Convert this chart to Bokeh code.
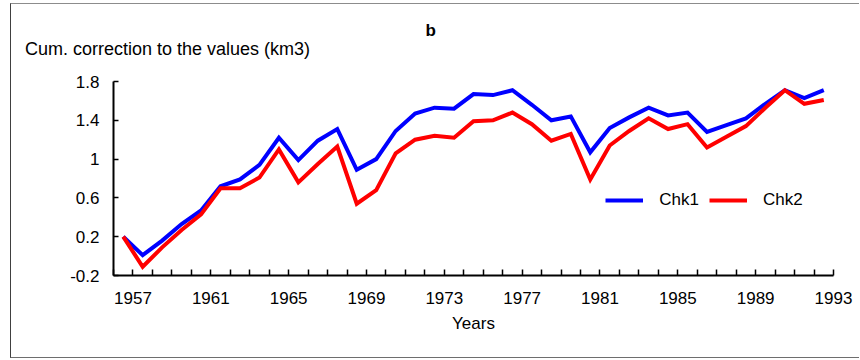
from bokeh.plotting import figure
from bokeh.models import Range1d, FixedTicker, Title, Legend, LegendItem, CustomJSTickFormatter
from bokeh.embed import file_html
from bokeh.resources import INLINE

# ---- data ----
years = list(range(1956, 1993))  # annual values, plotted at mid-year
chk1 = [0.20, 0.01, 0.16, 0.33, 0.47, 0.72, 0.79, 0.94, 1.22, 0.99,
        1.19, 1.31, 0.89, 1.00, 1.29, 1.47, 1.53, 1.52, 1.67, 1.66,
        1.71, 1.56, 1.40, 1.44, 1.07, 1.32, 1.43, 1.53, 1.45, 1.48,
        1.28, 1.35, 1.42, 1.57, 1.71, 1.63, 1.71]
chk2 = [0.20, -0.11, 0.09, 0.27, 0.43, 0.70, 0.70, 0.81, 1.10, 0.76,
        0.95, 1.13, 0.54, 0.68, 1.06, 1.20, 1.24, 1.22, 1.39, 1.40,
        1.48, 1.36, 1.19, 1.26, 0.79, 1.14, 1.29, 1.42, 1.31, 1.36,
        1.12, 1.23, 1.34, 1.53, 1.71, 1.57, 1.61]
x_tick_labels = [1957, 1961, 1965, 1969, 1973, 1977, 1981, 1985, 1989, 1993]
y_ticks = [-0.2, 0.2, 0.6, 1.0, 1.4, 1.8]
series_names = ["Chk1", "Chk2"]
colors = ["#0000FF", "#FF0000"]
title_text = "b"
y_title = "Cum. correction to the values (km3)"
x_title = "Years"

FONT = "Liberation Sans"
FS = "17px"

xs = [y + 0.5 for y in years]

p = figure(width=849, height=355, output_backend="svg", toolbar_location=None,
           x_range=Range1d(years[0], years[-1] + 1), y_range=Range1d(y_ticks[0], y_ticks[-1]),
           min_border_left=102, min_border_right=27, min_border_top=77, min_border_bottom=84)
p.margin = (3, 0, 0, 10)
p.styles = {"border-top": "1px solid #8c8c8c", "border-left": "1px solid #404040",
            "border-bottom": "1px solid #6e6e6e"}
p.outline_line_color = None
p.xgrid.visible = False
p.ygrid.visible = False
p.background_fill_color = "white"
p.border_fill_color = "white"

r1 = p.line(xs, chk1, line_color=colors[0], line_width=4, line_join="miter")
r2 = p.line(xs, chk2, line_color=colors[1], line_width=4, line_join="miter")

# x axis
xa = p.xaxis[0]
xa.ticker = FixedTicker(ticks=x_tick_labels, minor_ticks=list(range(years[0], years[-1] + 2)))
xa.major_tick_in = 0
xa.major_tick_out = 0
xa.minor_tick_in = 6
xa.minor_tick_out = 0
xa.minor_tick_line_color = "black"
xa.minor_tick_line_width = 1.5
xa.axis_line_color = "black"
xa.axis_line_width = 2
xa.major_label_standoff = 16
xa.major_label_text_font = FONT
xa.major_label_text_font_size = FS
xa.major_label_text_color = "black"
xa.axis_label = x_title
xa.axis_label_text_font = FONT
xa.axis_label_text_font_size = FS
xa.axis_label_text_font_style = "normal"
xa.axis_label_text_color = "black"
xa.axis_label_standoff = 7

# y axis
ya = p.yaxis[0]
ya.ticker = FixedTicker(ticks=y_ticks, minor_ticks=[])
ya.formatter = CustomJSTickFormatter(code="return tick.toFixed(1).replace(/\\.0$/, '')")
ya.major_tick_in = 5
ya.major_tick_out = 0
ya.major_tick_line_width = 1.5
ya.minor_tick_in = 0
ya.minor_tick_out = 0
ya.axis_line_color = "black"
ya.axis_line_width = 2
ya.major_label_standoff = 14
ya.major_label_text_font = FONT
ya.major_label_text_font_size = FS
ya.major_label_text_color = "black"

# titles
p.add_layout(Title(text=y_title, align="left", offset=-88.5, standoff=46,
                   text_font=FONT, text_font_size="18px", text_font_style="normal",
                   text_color="black"), "above")
p.title.text = title_text
p.title.align = "left"
p.title.offset = 312
p.title.standoff = -53
p.title.text_font = FONT
p.title.text_font_size = FS
p.title.text_font_style = "bold"
p.title.text_color = "black"

legend = Legend(items=[LegendItem(label=series_names[0], renderers=[r1]),
                       LegendItem(label=series_names[1], renderers=[r2])],
                location=(492.3, 65.4), orientation="horizontal",
                padding=0, margin=0, spacing=10, glyph_width=38, glyph_height=20,
                label_height=20, label_standoff=16, label_text_font=FONT,
                label_text_font_size=FS, label_text_color="black",
                border_line_alpha=0, background_fill_alpha=0)
p.add_layout(legend)

open("out.html", "w").write(file_html(p, INLINE))
